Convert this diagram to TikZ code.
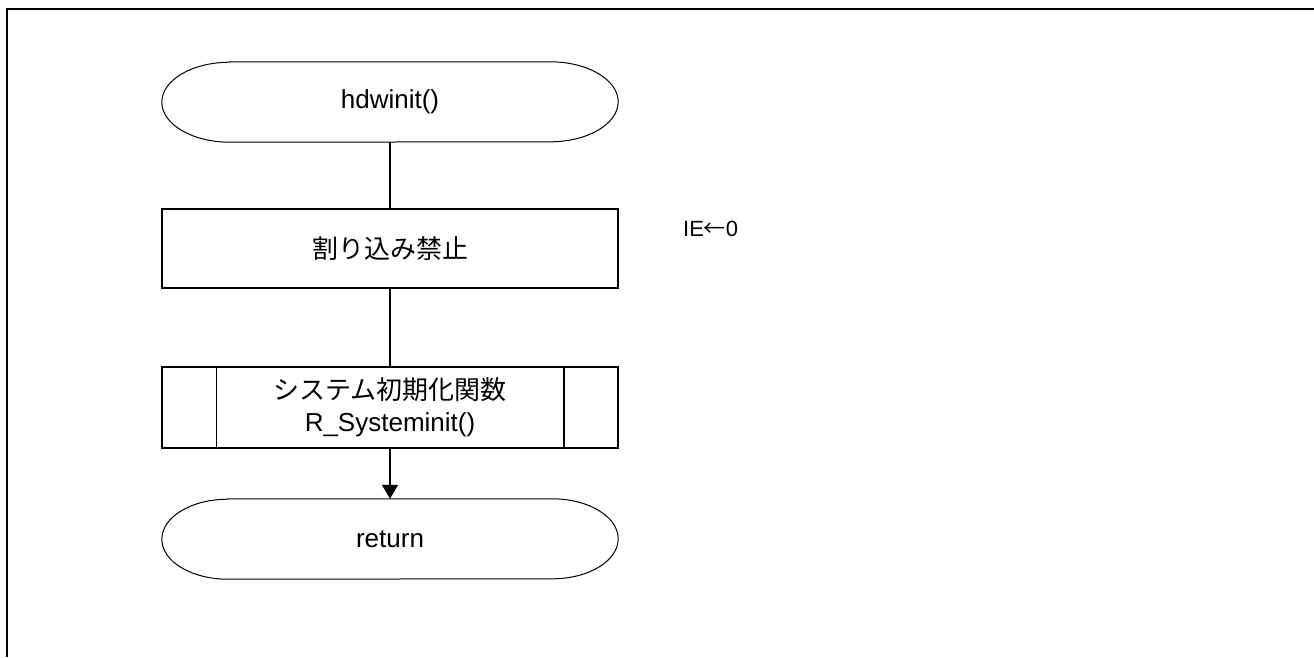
\documentclass[tikz,border=0pt]{standalone}
\usepackage{fontspec}
\setmainfont{Liberation Sans}
\newfontfamily\jp{Noto Sans CJK JP}
\usetikzlibrary{arrows.meta}
\tikzset{
  box/.style={draw, line width=1.5pt, minimum width=456pt, inner sep=0pt, font=\fontsize{26pt}{32pt}\selectfont, align=center},
  termnode/.style={draw=none, minimum width=456pt, minimum height=80pt, inner sep=0pt, font=\fontsize{26pt}{32pt}\selectfont},
  termline/.style={line width=1pt},
  conn/.style={line width=1.5pt},
  arr/.style={line width=1.5pt, -{Triangle[length=14pt,width=16pt]}},
  frame/.style={line width=2.5pt},
  note/.style={anchor=west, inner sep=0pt, font=\fontsize{22pt}{26pt}\selectfont}
}
\begin{document}
\begin{tikzpicture}[x=1pt,y=-1pt]
\useasboundingbox (0,0) rectangle (1314,657);
\draw[frame] (7,657) -- (7,9) -- (1314,9);

\node[termnode] (start) at (390,102) {hdwinit()};
\draw[termline] ([xshift=68pt]start.north west) -- ([xshift=-68pt]start.north east)
  arc[start angle=90,end angle=-90,x radius=68pt,y radius=40pt]
  -- ([xshift=68pt]start.south west)
  arc[start angle=270,end angle=90,x radius=68pt,y radius=40pt] -- cycle;

\node[box, minimum height=79pt] (dis) at (390,248.5) {\jp 割り込み禁止};
\node[note] (ie) at (683,229) {IE{\jp ←}0};

\node[box, minimum height=81pt] (sub) at (390,407.5) {{\jp システム初期化関数}\\R\_Systeminit()};
\draw[line width=1.5pt] ([xshift=55pt]sub.north west) -- ([xshift=55pt]sub.south west);
\draw[line width=1.5pt] ([xshift=-55pt]sub.north east) -- ([xshift=-55pt]sub.south east);

\node[termnode] (ret) at (390,539) {return};
\draw[termline] ([xshift=66pt]ret.north west) -- ([xshift=-66pt]ret.north east)
  arc[start angle=90,end angle=-90,x radius=66pt,y radius=40pt]
  -- ([xshift=66pt]ret.south west)
  arc[start angle=270,end angle=90,x radius=66pt,y radius=40pt] -- cycle;

\draw[conn] (start.south) -- (dis.north);
\draw[conn] (dis.south) -- (sub.north);
\draw[arr] (sub.south) -- (ret.north);
\end{tikzpicture}
\end{document}
